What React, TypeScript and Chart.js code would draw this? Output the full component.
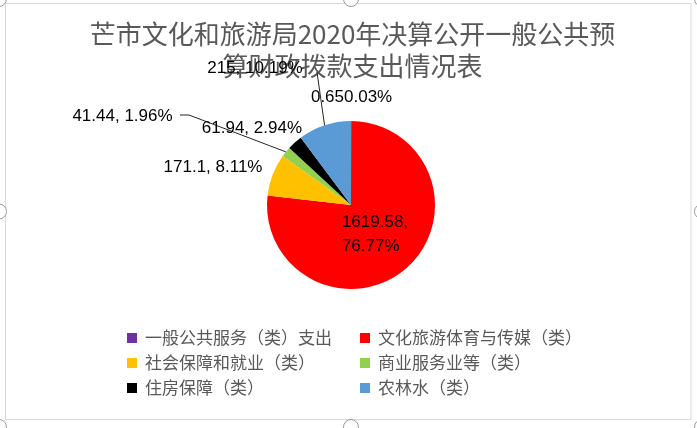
import React, { useEffect, useRef } from "react";
import { Chart, registerables } from "chart.js";

Chart.register(...registerables);

const titleLines = ["芒市文化和旅游局2020年决算公开一般公共预", "算财政拨款支出情况表"];
const categories = [
  "一般公共服务（类）支出",
  "文化旅游体育与传媒（类）",
  "社会保障和就业（类）",
  "商业服务业等（类）",
  "住房保障（类）",
  "农林水（类）",
];
const values = [0.65, 1619.58, 171.1, 41.44, 61.94, 215];
const colors = ["#7030A0", "#FF0000", "#FFC000", "#92D050", "#000000", "#5B9BD5"];
// separator between value and percent as shown in each label
const labelSeparators = ["", ",\n", ", ", ", ", ", ", ", "];

// label placement (offset of label centre from the slice's outer mid-point) - style only
const labelPlacement = [
  { dx: 0.5, dy: -23.5, align: "center", leader: null },
  { dx: -65, dy: -33.7, align: "left", leader: null },
  { dx: -59.6, dy: -7.8, align: "center", leader: null },
  { dx: -163.4, dy: -35.9, align: "center", leader: [[-105.9, -36.9], [-96.9, -36.9]] },
  { dx: -42.9, dy: -14.4, align: "center", leader: null },
  { dx: -69.6, dy: -56.8, align: "center", leader: [[-7.6, -53.3]] },
];

const LABEL_FONT = '17px "Liberation Sans", Arial, sans-serif';
const CJK_FONT = '"Noto Sans CJK SC", "Noto Sans", sans-serif';

const total = values.reduce((a, b) => a + b, 0);
const percents = values.map((v) => ((v / total) * 100).toFixed(2) + "%");

const framePlugin = {
  id: "frame",
  beforeDraw(chart: any) {
    const ctx = chart.ctx;
    const W = chart.width;
    const H = chart.height;
    ctx.save();
    ctx.fillStyle = "#ffffff";
    ctx.fillRect(0, 0, W, H);
    ctx.strokeStyle = "#D9D9D9";
    ctx.lineWidth = 1;
    ctx.strokeRect(5.5, 3.5, W - 11.5, H - 12);
    const xs = [-1, W / 2 + 2.5, W + 5];
    const ys = [-1, H / 2 - 2.5, H - 1];
    ctx.strokeStyle = "#9A9A9A";
    ctx.fillStyle = "#ffffff";
    for (const hx of xs) {
      for (const hy of ys) {
        if (hx === xs[1] && hy === ys[1]) continue;
        ctx.beginPath();
        ctx.arc(hx, hy, 7.5, 0, Math.PI * 2);
        ctx.fill();
        ctx.stroke();
      }
    }
    ctx.restore();
  },
};

const titlePlugin = {
  id: "customTitle",
  beforeDatasetsDraw(chart: any) {
    const ctx = chart.ctx;
    ctx.save();
    ctx.font = `26px ${CJK_FONT}`;
    ctx.fillStyle = "#595959";
    ctx.textAlign = "center";
    ctx.textBaseline = "middle";
    const cx = chart.width / 2 + 4;
    titleLines.forEach((line, i) => {
      ctx.fillText(line, cx, 34 + i * 32);
    });
    ctx.restore();
  },
};

const labelPlugin = {
  id: "customLabels",
  afterDatasetsDraw(chart: any) {
    const ctx = chart.ctx;
    const meta = chart.getDatasetMeta(0);
    ctx.save();
    ctx.font = LABEL_FONT;
    ctx.fillStyle = "#000000";
    ctx.textBaseline = "middle";
    meta.data.forEach((arc: any, i: number) => {
      const p = arc.getProps(["x", "y", "startAngle", "endAngle", "outerRadius"], true);
      const mid = (p.startAngle + p.endAngle) / 2;
      const ex = p.x + Math.cos(mid) * p.outerRadius;
      const ey = p.y + Math.sin(mid) * p.outerRadius;
      const pl = labelPlacement[i];
      if (pl.leader) {
        ctx.beginPath();
        ctx.strokeStyle = "#262626";
        ctx.lineWidth = 1;
        pl.leader.forEach((pt: number[], k: number) => {
          if (k === 0) ctx.moveTo(ex + pt[0], ey + pt[1]);
          else ctx.lineTo(ex + pt[0], ey + pt[1]);
        });
        ctx.lineTo(ex, ey);
        ctx.stroke();
      }
      const text = `${values[i]}${labelSeparators[i]}${percents[i]}`;
      const lines = text.split("\n");
      const lh = 24;
      const lx = ex + pl.dx;
      const ly = ey + pl.dy;
      ctx.textAlign = pl.align as CanvasTextAlign;
      lines.forEach((ln, k) => {
        const yy = ly + (k - (lines.length - 1) / 2) * lh;
        const xx = pl.align === "left" ? lx : lx;
        ctx.fillText(ln, xx, yy);
      });
    });
    ctx.restore();
  },
};

const legendPlugin = {
  id: "customLegend",
  afterDraw(chart: any) {
    const ctx = chart.ctx;
    ctx.save();
    ctx.font = `17px ${CJK_FONT}`;
    ctx.textBaseline = "middle";
    ctx.textAlign = "left";
    const colX = [127, 360];
    const rowY0 = 338;
    const rowH = 25;
    const box = 10;
    categories.forEach((cat, i) => {
      const col = i % 2;
      const row = Math.floor(i / 2);
      const x = colX[col];
      const y = rowY0 + row * rowH;
      ctx.fillStyle = colors[i];
      ctx.fillRect(x, y - box / 2, box, box);
      ctx.fillStyle = "#595959";
      ctx.fillText(cat, x + 18, y);
    });
    ctx.restore();
  },
};

export default function App() {
  const canvasRef = useRef<HTMLCanvasElement | null>(null);

  useEffect(() => {
    if (!canvasRef.current) return;
    const chart = new Chart(canvasRef.current, {
      type: "pie",
      data: {
        labels: categories,
        datasets: [
          {
            data: values,
            backgroundColor: colors,
            borderWidth: 0,
          },
        ],
      },
      options: {
        responsive: false,
        maintainAspectRatio: false,
        animation: false,
        layout: { padding: { top: 121, bottom: 139, left: 10, right: 5 } },
        plugins: {
          legend: { display: false },
          title: { display: false },
          tooltip: { enabled: false },
        },
      },
      plugins: [framePlugin, titlePlugin, labelPlugin, legendPlugin],
    });
    return () => chart.destroy();
  }, []);

  return (
    <div style={{ position: "fixed", left: 0, top: 0, width: 697, height: 428, background: "#fff" }}>
      <canvas ref={canvasRef} width={697} height={428} style={{ display: "block", width: 697, height: 428 }} />
    </div>
  );
}
